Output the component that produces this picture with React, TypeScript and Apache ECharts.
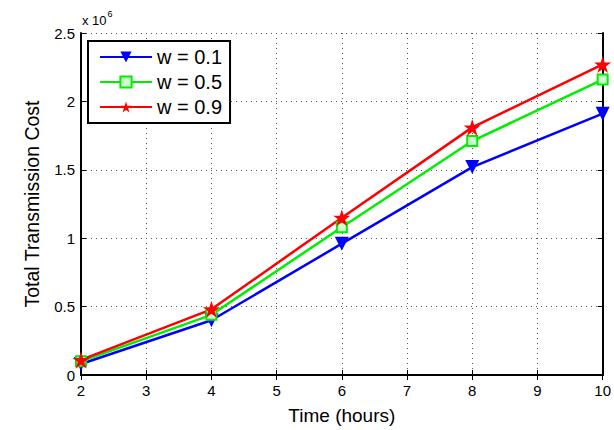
import React, { useEffect, useRef } from "react";
import * as echarts from "echarts";

const hours = [2, 4, 6, 8, 10];
const w01 = [0.08, 0.4, 0.96, 1.52, 1.91];
const w05 = [0.1, 0.44, 1.08, 1.71, 2.16];
const w09 = [0.11, 0.48, 1.15, 1.81, 2.27];
const seriesNames = ["w = 0.1", "w = 0.5", "w = 0.9"];

const STAR =
  "path://M50,0 L61.8,36.3 L100,36.3 L69.1,58.8 L80.9,95.1 L50,72.6 L19.1,95.1 L30.9,58.8 L0,36.3 L38.2,36.3 Z";

const FONT = "'Liberation Sans', Arial, sans-serif";

export default function App() {
  const ref = useRef<HTMLDivElement>(null);
  useEffect(() => {
    if (!ref.current) return;
    const chart = echarts.init(ref.current, null, { renderer: "svg" });
    const axisLine = { show: true, lineStyle: { color: "#000", width: 2 } };
    const tick = { show: true, inside: true, length: 5, lineStyle: { color: "#000", width: 1 } };
    const grid = { show: true, lineStyle: { color: "#555", type: [1, 4], width: 1 } };
    chart.setOption({
      animation: false,
      backgroundColor: "#fff",
      textStyle: { fontFamily: FONT },
      grid: { left: 81, right: 10, top: 33, bottom: 47, containLabel: false },
      legend: {
        left: 88,
        top: 41,
        orient: "vertical",
        data: seriesNames,
        itemWidth: 52,
        itemHeight: 14,
        itemGap: 5,
        padding: [6, 8, 6, 11],
        borderColor: "#000",
        borderWidth: 2,
        backgroundColor: "#fff",
        textStyle: { fontFamily: FONT, fontSize: 20, color: "#000", lineHeight: 20 },
      },
      graphic: [
        {
          type: "text",
          left: 82,
          top: 9,
          style: {
            text: "{a|x 10}{b|6}",
            rich: {
              a: { fontFamily: FONT, fontSize: 13, fill: "#000", verticalAlign: "bottom" },
              b: { fontFamily: FONT, fontSize: 9, fill: "#000", padding: [0, 0, 9, 1] },
            },
          },
        },
      ],
      xAxis: [
        {
          type: "value",
          min: 2,
          max: 10,
          interval: 1,
          name: "Time (hours)",
          nameLocation: "middle",
          nameGap: 31,
          nameTextStyle: { fontFamily: FONT, fontSize: 19, color: "#000" },
          axisLine,
          axisTick: tick,
          axisLabel: { fontFamily: FONT, fontSize: 15, color: "#000", margin: 8 },
          splitLine: grid,
        },
        {
          type: "value",
          position: "top",
          min: 2,
          max: 10,
          interval: 1,
          axisLine,
          axisTick: tick,
          axisLabel: { show: false },
          splitLine: { show: false },
        },
      ],
      yAxis: [
        {
          type: "value",
          min: 0,
          max: 2.5,
          interval: 0.5,
          name: "Total Transmission Cost",
          nameLocation: "middle",
          nameGap: 39,
          nameTextStyle: { fontFamily: FONT, fontSize: 19.5, color: "#000" },
          axisLine,
          axisTick: tick,
          axisLabel: { fontFamily: FONT, fontSize: 15, color: "#000", margin: 6 },
          splitLine: grid,
        },
        {
          type: "value",
          position: "right",
          min: 0,
          max: 2.5,
          interval: 0.5,
          axisLine,
          axisTick: tick,
          axisLabel: { show: false },
          splitLine: { show: false },
        },
      ],
      series: [
        {
          name: seriesNames[0],
          type: "line",
          data: hours.map((h, i) => [h, w01[i]]),
          symbol: "triangle",
          symbolRotate: 180,
          symbolSize: 14,
          lineStyle: { color: "#0000ff", width: 2.5 },
          itemStyle: { color: "#0000ff" },
        },
        {
          name: seriesNames[1],
          type: "line",
          data: hours.map((h, i) => [h, w05[i]]),
          symbol: "rect",
          symbolSize: 10,
          lineStyle: { color: "#00ee00", width: 2.5 },
          itemStyle: { color: "#ccffcc", borderColor: "#00ee00", borderWidth: 2 },
        },
        {
          name: seriesNames[2],
          type: "line",
          data: hours.map((h, i) => [h, w09[i]]),
          symbol: STAR,
          symbolSize: 17,
          lineStyle: { color: "#ff0000", width: 2.5 },
          itemStyle: { color: "#ff0000" },
        },
      ],
    });
    return () => chart.dispose();
  }, []);
  return (
    <div
      ref={ref}
      style={{ width: 614, height: 430, position: "absolute", left: 0, top: 0 }}
    />
  );
}
